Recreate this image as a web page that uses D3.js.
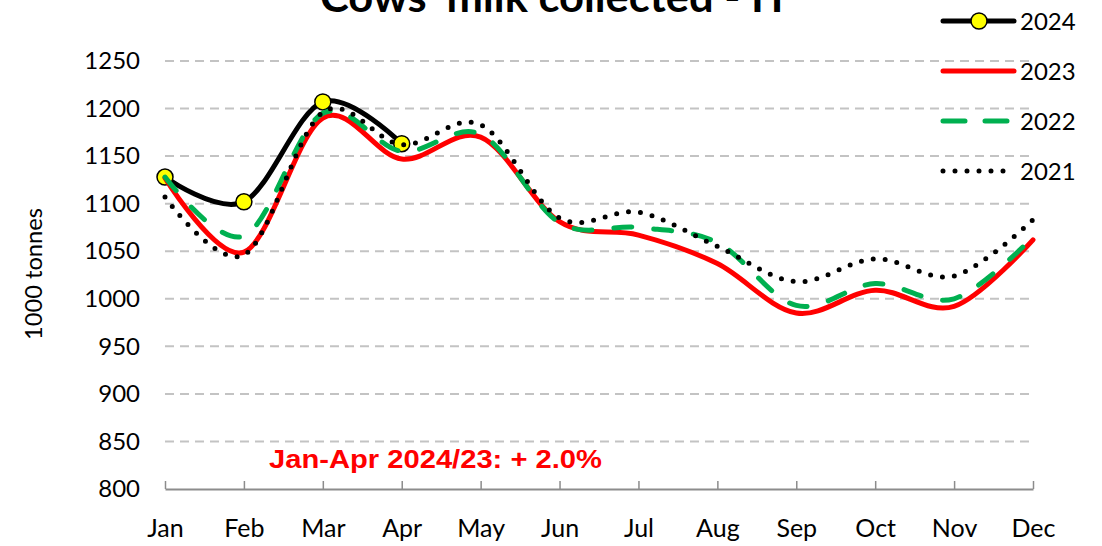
<!DOCTYPE html>
<html>
<head>
<meta charset="utf-8">
<script src="https://cdn.jsdelivr.net/npm/d3@7"></script>
<style>
    body { margin: 0; background: #fff; }
    text { font-family: Lato, "Open Sans", sans-serif; }
</style>
</head>
<body>
<div class="canvas"></div>
<script>
// data (1000 tonnes).
const months = ['Jan','Feb','Mar','Apr','May','Jun','Jul','Aug','Sep','Oct','Nov','Dec'];
const yTicks = [800, 850, 900, 950, 1000, 1050, 1100, 1150, 1200, 1250];
const values2024 = [1128, 1102, 1207, 1163];
const values2023 = [1127, 1049, 1190, 1147, 1170, 1081, 1067, 1037, 985, 1009, 992, 1062];
const values2022 = [1128, 1066, 1195, 1155, 1173, 1080, 1075, 1059, 993, 1016, 1000, 1065];
const values2021 = [1107, 1046, 1196, 1162, 1183, 1085, 1091, 1055, 1018, 1042, 1024, 1083];

// dimensions and margins.
const svgDimensions = { height: 546, width: 1102 };
const margin = { left: 165, right: 69, top: 61, bottom: 57 };

const svg = d3.select('.canvas')
    .append('svg')
        .attr('width', svgDimensions.width)
        .attr('height', svgDimensions.height);

const xScale = d3.scalePoint()
    .domain(months)
    .range([margin.left, svgDimensions.width - margin.right]);

const yScale = d3.scaleLinear()
    .domain([800, 1250])
    .range([svgDimensions.height - margin.bottom, margin.top]);

// gridlines.
svg.append('g')
    .selectAll('line')
    .data(yTicks.filter(d => d > 800))
    .enter()
    .append('line')
        .attr('x1', margin.left)
        .attr('x2', svgDimensions.width - margin.right)
        .attr('y1', d => yScale(d))
        .attr('y2', d => yScale(d))
        .attr('stroke', '#c3c3c3')
        .attr('stroke-width', 2)
        .attr('stroke-dasharray', '9,6');

// x axis: line with upward ticks, labels below.
const xAxis = d3.axisBottom(xScale).tickSizeInner(-8).tickSizeOuter(0).tickPadding(30);
const xAxisGroup = svg.append('g')
    .attr('transform', `translate(0,${yScale(800)})`)
    .call(xAxis);
xAxisGroup.select('.domain').attr('stroke', '#8c8c8c').attr('stroke-width', 2);
xAxisGroup.selectAll('.tick line').attr('stroke', '#8c8c8c').attr('stroke-width', 1.5);
xAxisGroup.selectAll('text')
    .attr('font-size', 25)
    .attr('fill', '#000')
    .style('font-family', 'Lato, sans-serif');

// y axis: labels only.
const yAxis = d3.axisLeft(yScale).tickValues(yTicks).tickFormat(d3.format('d')).tickSize(0).tickPadding(25);
const yAxisGroup = svg.append('g')
    .attr('transform', `translate(${margin.left},0)`)
    .call(yAxis);
yAxisGroup.select('.domain').remove();
yAxisGroup.selectAll('text')
    .attr('font-size', 24)
    .attr('fill', '#000')
    .style('font-family', 'Lato, sans-serif');

svg.append('text')
    .attr('transform', 'translate(42,274) rotate(-90)')
    .attr('text-anchor', 'middle')
    .attr('font-size', 23)
    .attr('textLength', 132)
    .attr('lengthAdjust', 'spacingAndGlyphs')
    .text('1000 tonnes');

// title (partly cut off at the top).
svg.append('text')
    .attr('x', 555)
    .attr('y', 12)
    .attr('text-anchor', 'middle')
    .attr('font-size', 42)
    .attr('font-weight', 'bold')
    .attr('textLength', 470)
    .attr('lengthAdjust', 'spacingAndGlyphs')
    .text("Cows' milk collected - IT");

// annotation.
svg.append('text')
    .attr('x', 269)
    .attr('y', 468)
    .attr('font-size', 26)
    .attr('font-weight', 'bold')
    .attr('fill', '#ff0000')
    .attr('textLength', 333)
    .attr('lengthAdjust', 'spacingAndGlyphs')
    .style('font-family', '"Liberation Sans", Arial, sans-serif')
    .text('Jan-Apr 2024/23: + 2.0%');

// series.
const lineGenerator = d3.line()
    .x((d, i) => xScale(months[i]))
    .y(d => yScale(d))
    .curve(d3.curveCardinal.tension(0));

const series = [
    { name: '2024', values: values2024, color: '#000000', dash: null },
    { name: '2023', values: values2023, color: '#ff0000', dash: null },
    { name: '2022', values: values2022, color: '#00b050', dash: '18,22' },
    { name: '2021', values: values2021, color: '#000000', dash: '0,12' }
];

const graph = svg.append('g');

series.forEach(s => {
    graph.append('path')
        .datum(s.values)
        .attr('d', lineGenerator)
        .attr('fill', 'none')
        .attr('stroke', s.color)
        .attr('stroke-width', 5)
        .attr('stroke-linecap', 'round')
        .attr('stroke-dasharray', s.dash);
    if (s.name === '2024') {
        graph.selectAll('circle.m2024')
            .data(s.values)
            .enter()
            .append('circle')
                .attr('class', 'm2024')
                .attr('cx', (d, i) => xScale(months[i]))
                .attr('cy', d => yScale(d))
                .attr('r', 8)
                .attr('fill', '#ffff00')
                .attr('stroke', '#000')
                .attr('stroke-width', 1.5);
    }
});

// legend.
const legendGroup = svg.append('g')
    .attr('transform', 'translate(943,21)');

series.forEach((s, i) => {
    const row = legendGroup.append('g')
        .attr('transform', `translate(0,${i * 50})`);
    row.append('line')
        .attr('x1', 0)
        .attr('x2', s.name === '2021' ? 68 : 71)
        .attr('stroke', s.color)
        .attr('stroke-width', 5)
        .attr('stroke-linecap', 'round')
        .attr('stroke-dasharray', s.name === '2022' ? '22,20' : s.dash);
    if (s.name === '2024') {
        row.append('circle')
            .attr('cx', 36)
            .attr('r', 8)
            .attr('fill', '#ffff00')
            .attr('stroke', '#000')
            .attr('stroke-width', 1.5);
    }
    row.append('text')
        .attr('x', 77)
        .attr('dy', '0.36em')
        .attr('font-size', 24)
        .text(s.name);
});
</script>
</body>
</html>
